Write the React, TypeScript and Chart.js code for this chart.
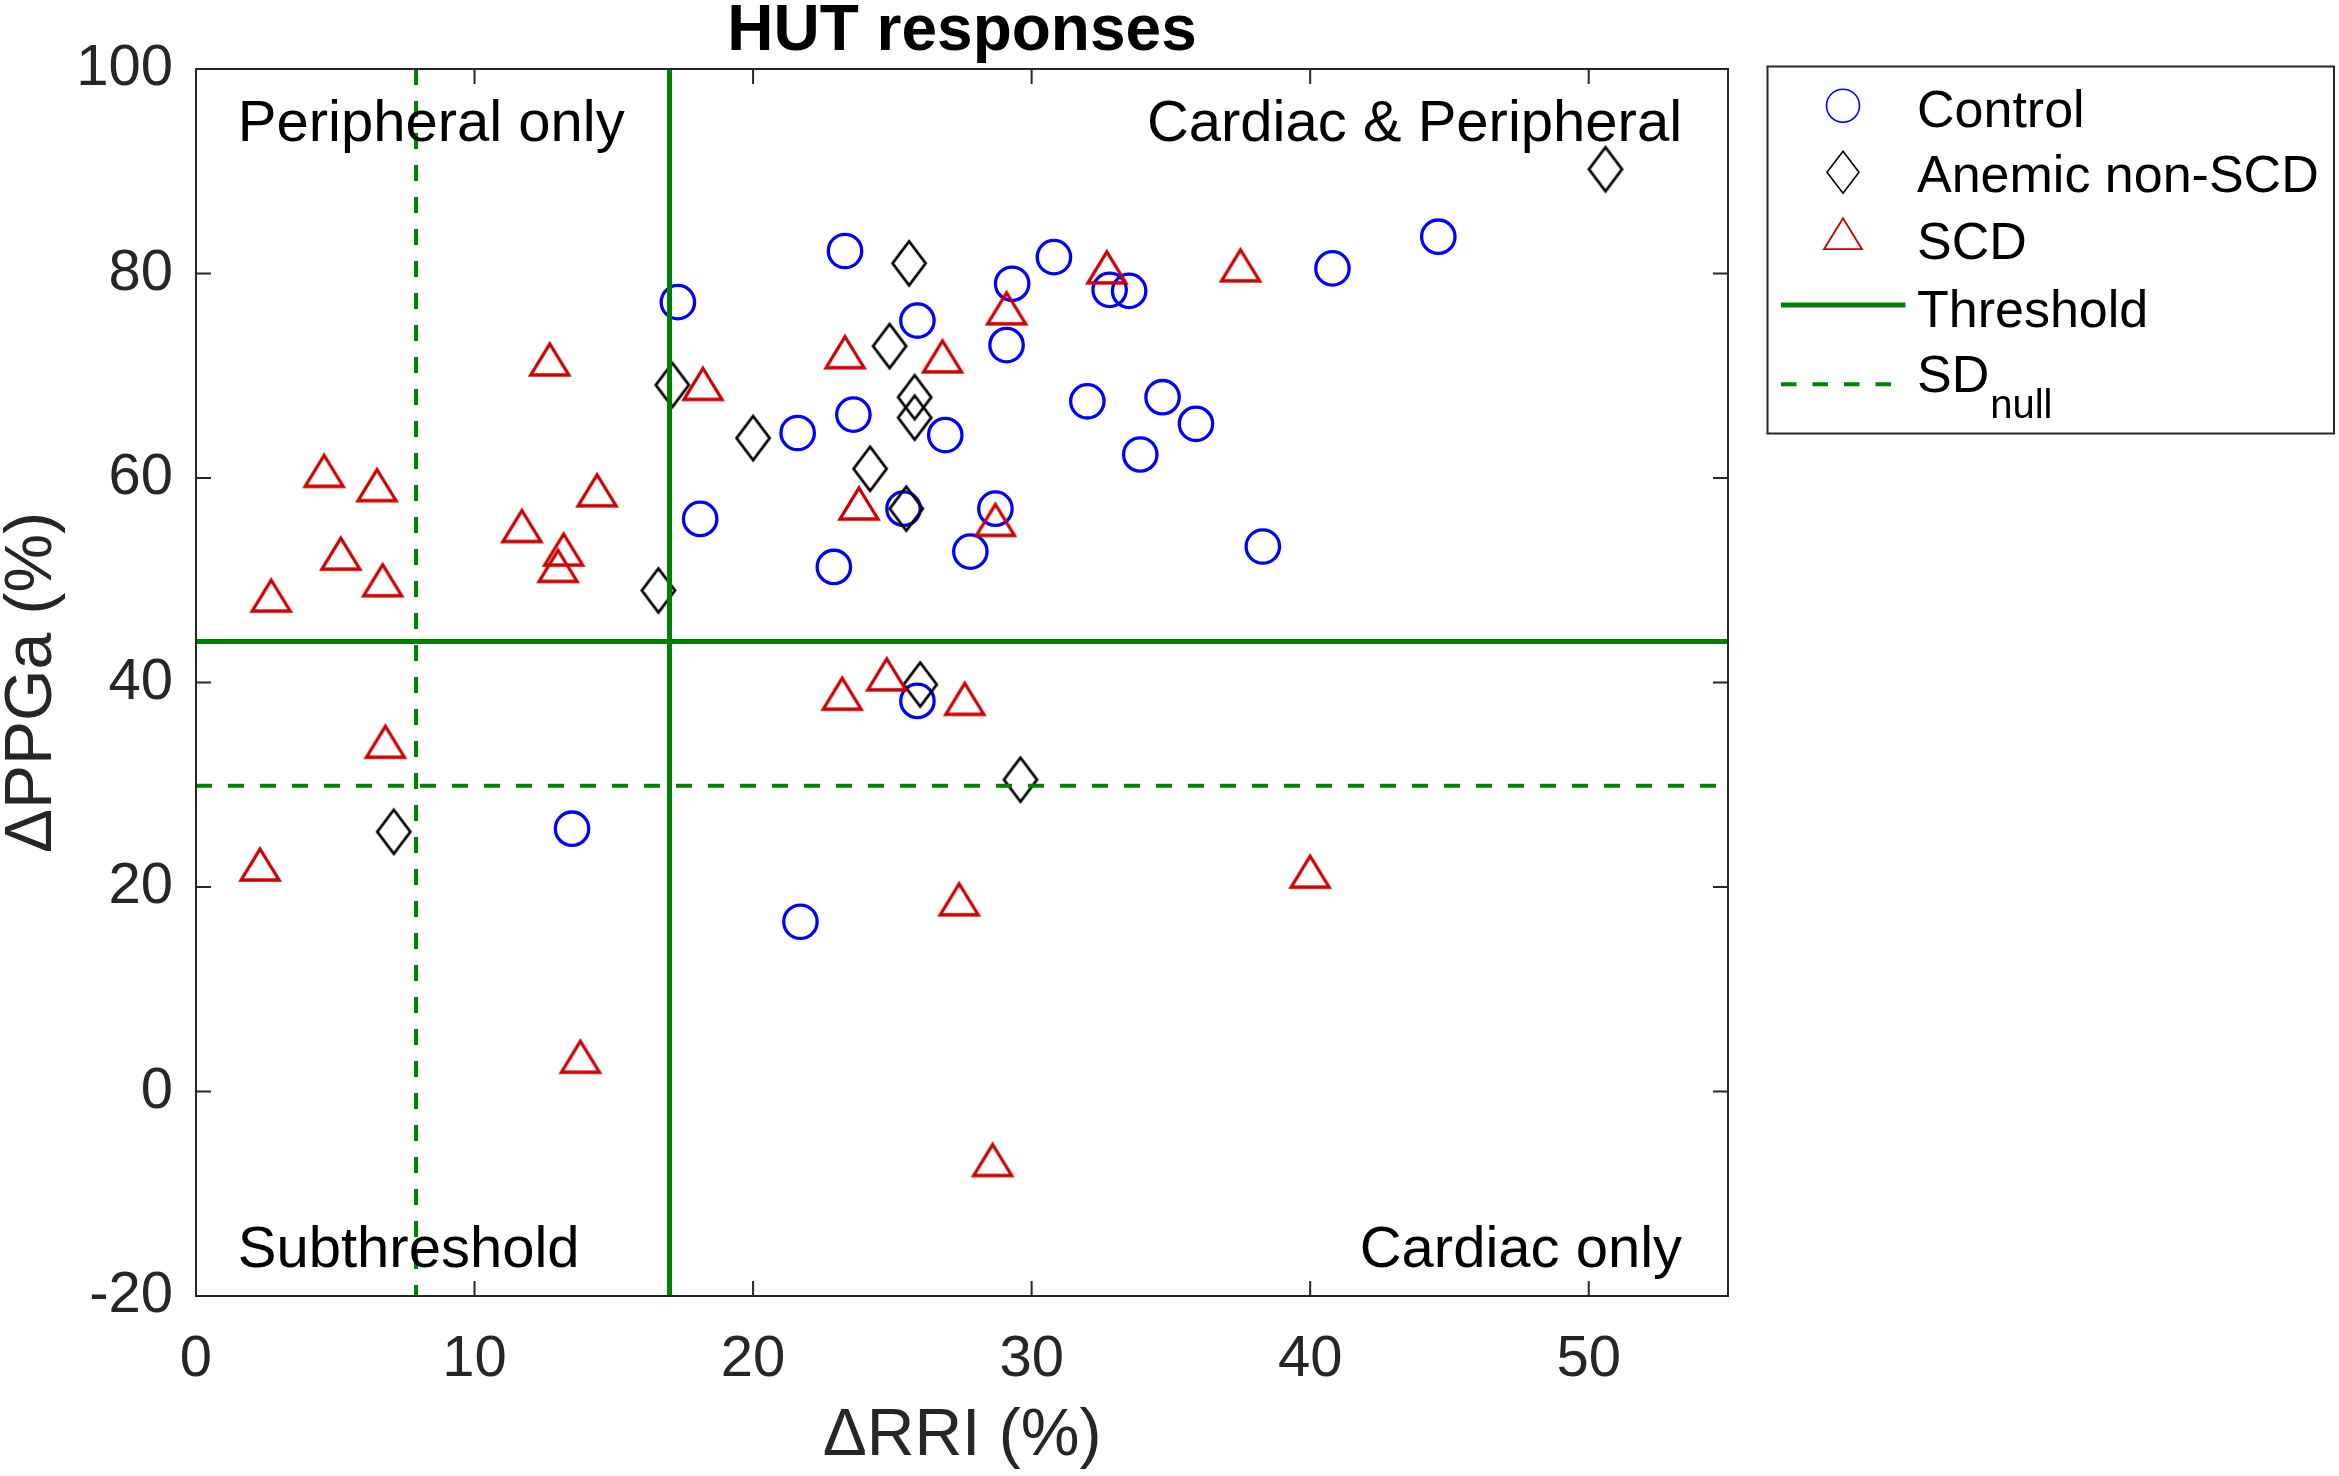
import React, { useEffect, useRef } from 'react';
import { Chart, registerables } from 'chart.js';

Chart.register(...registerables);

// ---------- data ----------
const controlRRI = [23.3, 17.3, 25.9, 29.3, 30.8, 32.8, 33.5, 40.8, 44.6, 29.1, 32.0, 34.7, 35.9, 33.9, 21.6, 23.6, 26.9, 18.1, 25.4, 28.7, 27.8, 22.9, 38.3, 25.9, 13.5, 21.7];
const controlPPGa = [82.2, 77.2, 75.4, 79.0, 81.6, 78.4, 78.3, 80.5, 83.6, 73.0, 67.5, 67.9, 65.3, 62.3, 64.4, 66.2, 64.2, 56.0, 57.0, 57.0, 52.8, 51.3, 53.3, 38.2, 25.7, 16.6];

const anemicRRI = [50.6, 25.6, 24.9, 17.1, 25.8, 25.8, 20.0, 24.2, 25.5, 16.6, 26.0, 29.6, 7.1];
const anemicPPGa = [90.2, 81.0, 72.9, 69.1, 67.9, 65.9, 63.9, 60.9, 57.0, 49.0, 39.8, 30.5, 25.4];

const scdRRI = [2.7, 4.6, 5.2, 6.5, 6.7, 12.7, 11.7, 13.2, 13.0, 14.4, 18.2, 23.3, 26.8, 29.1, 32.7, 37.5, 23.8, 28.7, 23.2, 24.8, 27.6, 6.8, 2.3, 40.0, 27.4, 13.8, 28.6];
const scdPPGa = [48.5, 60.7, 52.6, 59.3, 50.0, 71.6, 55.3, 53.0, 51.4, 58.8, 69.2, 72.3, 71.9, 76.6, 80.6, 80.8, 57.5, 55.9, 38.9, 40.8, 38.4, 34.2, 22.2, 21.5, 18.8, 3.4, -6.7];

const thresholdRRI = 17.0;
const thresholdPPGa = 44.0;
const sdNullRRI = 7.9;
const sdNullPPGa = 29.9;

const xRange = [0, 55];
const yRange = [-20, 100];
const xTicks = [0, 10, 20, 30, 40, 50];
const yTicks = [-20, 0, 20, 40, 60, 80, 100];

const seriesLabels = ['Control', 'Anemic non-SCD', 'SCD', 'Threshold', 'SD'];
const sdSubscript = 'null';
const titleText = 'HUT responses';
const xTitle = 'ΔRRI (%)';
const yTitle = 'ΔPPGa (%)';

// quadrant labels anchored in data coordinates
const quadrantTexts = ['Peripheral only', 'Cardiac & Peripheral', 'Subthreshold', 'Cardiac only'];
const quadrantX = [1.5, 53.35, 1.5, 53.35];
const quadrantY = [92.96, 92.96, -17.2, -17.2];
const quadrantAlign: CanvasTextAlign[] = ['left', 'right', 'left', 'right'];

// ---------- styles ----------
const FONT = "'Liberation Sans', Arial, Helvetica, sans-serif";
const AXIS_COLOR = '#262626';
const BLUE = '#0000ff';
const RED = '#cc0000';
const GREEN = '#008000';

function makeDiamond(hw: number, hh: number, lw: number, color: string) {
  const c = document.createElement('canvas');
  const pad = lw * 3 + 2;
  c.width = Math.round(2 * hw + 2 * pad);
  c.height = Math.round(2 * hh + 2 * pad);
  const g = c.getContext('2d')!;
  g.translate(c.width / 2, c.height / 2);
  g.beginPath();
  g.moveTo(0, -hh);
  g.lineTo(hw, 0);
  g.lineTo(0, hh);
  g.lineTo(-hw, 0);
  g.closePath();
  g.lineWidth = lw;
  g.lineJoin = 'miter';
  g.strokeStyle = color;
  g.stroke();
  return c;
}

function makeTriangle(w: number, h: number, lw: number, color: string) {
  const c = document.createElement('canvas');
  const pad = lw * 3 + 2;
  c.width = Math.round(w + 2 * pad);
  c.height = Math.round(h + 2 * pad);
  const g = c.getContext('2d')!;
  g.translate(c.width / 2, c.height / 2);
  g.beginPath();
  g.moveTo(0, -h / 2);
  g.lineTo(w / 2, h / 2);
  g.lineTo(-w / 2, h / 2);
  g.closePath();
  g.lineWidth = lw;
  g.lineJoin = 'miter';
  g.strokeStyle = color;
  g.stroke();
  return c;
}

function toPoints(xs: number[], ys: number[]) {
  return xs.map((x, i) => ({ x, y: ys[i] }));
}

export default function App() {
  const ref = useRef<HTMLCanvasElement | null>(null);

  useEffect(() => {
    document.body.style.margin = '0';
    const canvas = ref.current;
    if (!canvas) return;

    const diamondImg = makeDiamond(16.5, 22, 2.8, '#000000');
    const triangleImg = makeTriangle(38, 31, 3.3, RED);

    const decorPlugin = {
      id: 'decor',
      afterDraw(chart: any) {
        const ctx = chart.ctx as CanvasRenderingContext2D;
        const { left, right, top, bottom } = chart.chartArea;
        const xs = chart.scales.x;
        const ys = chart.scales.y;
        ctx.save();
        // axes box
        ctx.strokeStyle = AXIS_COLOR;
        ctx.lineWidth = 2;
        ctx.setLineDash([]);
        ctx.strokeRect(left, top, right - left, bottom - top);
        // inward ticks
        const tl = 15;
        ctx.beginPath();
        xTicks.forEach((v) => {
          const px = xs.getPixelForValue(v);
          ctx.moveTo(px, bottom);
          ctx.lineTo(px, bottom - tl);
          ctx.moveTo(px, top);
          ctx.lineTo(px, top + tl);
        });
        yTicks.forEach((v) => {
          const py = ys.getPixelForValue(v);
          ctx.moveTo(left, py);
          ctx.lineTo(left + tl, py);
          ctx.moveTo(right, py);
          ctx.lineTo(right - tl, py);
        });
        ctx.stroke();

        // title
        ctx.fillStyle = '#000000';
        ctx.font = `bold 64px ${FONT}`;
        ctx.textAlign = 'center';
        ctx.textBaseline = 'alphabetic';
        ctx.fillText(titleText, (left + right) / 2, top - 19);

        // quadrant labels
        ctx.font = `58px ${FONT}`;
        quadrantTexts.forEach((t, i) => {
          ctx.textAlign = quadrantAlign[i];
          ctx.fillText(t, xs.getPixelForValue(quadrantX[i]), ys.getPixelForValue(quadrantY[i]));
        });

        // legend
        const bx = right + 39.5;
        const by = top - 2.5;
        const bw = 2334 - bx;
        const bh = 433.5 - by;
        ctx.fillStyle = '#ffffff';
        ctx.fillRect(bx, by, bw, bh);
        ctx.strokeStyle = AXIS_COLOR;
        ctx.lineWidth = 2;
        ctx.strokeRect(bx, by, bw, bh);

        const mx = bx + 75.5;
        const textX = bx + 149.5;
        const baselines = [126.7, 192.3, 259, 326.7, 392.3];
        // control circle
        ctx.beginPath();
        ctx.arc(mx, 105.7, 16.5, 0, Math.PI * 2);
        ctx.strokeStyle = BLUE;
        ctx.lineWidth = 1.6;
        ctx.stroke();
        // diamond
        ctx.beginPath();
        ctx.moveTo(mx, 172.3 - 21);
        ctx.lineTo(mx + 16, 172.3);
        ctx.lineTo(mx, 172.3 + 21);
        ctx.lineTo(mx - 16, 172.3);
        ctx.closePath();
        ctx.strokeStyle = '#000000';
        ctx.lineWidth = 1.6;
        ctx.stroke();
        // triangle
        ctx.beginPath();
        ctx.moveTo(mx, 233.7 - 15.5);
        ctx.lineTo(mx + 19, 233.7 + 15.5);
        ctx.lineTo(mx - 19, 233.7 + 15.5);
        ctx.closePath();
        ctx.strokeStyle = RED;
        ctx.lineWidth = 1.8;
        ctx.stroke();
        // threshold line
        ctx.beginPath();
        ctx.moveTo(bx + 13.5, 305);
        ctx.lineTo(bx + 138, 305);
        ctx.strokeStyle = GREEN;
        ctx.lineWidth = 5;
        ctx.stroke();
        // sd line
        ctx.beginPath();
        ctx.setLineDash([15.5, 16]);
        ctx.moveTo(bx + 13.5, 384.3);
        ctx.lineTo(bx + 138, 384.3);
        ctx.lineWidth = 4;
        ctx.stroke();
        ctx.setLineDash([]);

        ctx.fillStyle = '#000000';
        ctx.font = `52px ${FONT}`;
        ctx.textAlign = 'left';
        ctx.textBaseline = 'alphabetic';
        seriesLabels.forEach((t, i) => {
          ctx.fillText(t, textX, baselines[i]);
        });
        const sdW = ctx.measureText(seriesLabels[4]).width;
        ctx.font = `40px ${FONT}`;
        ctx.fillText(sdSubscript, textX + sdW + 1, 418.3);
        ctx.restore();
      },
    };

    const chart = new Chart(canvas, {
      type: 'scatter',
      data: {
        datasets: [
          {
            label: 'Threshold RRI',
            data: [{ x: thresholdRRI, y: yRange[0] }, { x: thresholdRRI, y: yRange[1] }],
            showLine: true,
            borderColor: GREEN,
            borderWidth: 5,
            pointRadius: 0,
            order: 0,
          },
          {
            label: 'Threshold PPGa',
            data: [{ x: xRange[0], y: thresholdPPGa }, { x: xRange[1], y: thresholdPPGa }],
            showLine: true,
            borderColor: GREEN,
            borderWidth: 5,
            pointRadius: 0,
            order: 0,
          },
          {
            label: 'SD null RRI',
            data: [{ x: sdNullRRI, y: yRange[1] }, { x: sdNullRRI, y: yRange[0] }],
            showLine: true,
            borderColor: GREEN,
            borderWidth: 4,
            borderDash: [16, 16],
            pointRadius: 0,
            order: 0,
          },
          {
            label: 'SD null PPGa',
            data: [{ x: xRange[0], y: sdNullPPGa }, { x: xRange[1], y: sdNullPPGa }],
            showLine: true,
            borderColor: GREEN,
            borderWidth: 4,
            borderDash: [16, 16],
            pointRadius: 0,
            order: 0,
          },
          {
            label: seriesLabels[2],
            data: toPoints(scdRRI, scdPPGa),
            pointStyle: triangleImg as any,
            pointRadius: 18,
            order: 1,
          },
          {
            label: seriesLabels[1],
            data: toPoints(anemicRRI, anemicPPGa),
            pointStyle: diamondImg as any,
            pointRadius: 18,
            order: 2,
          },
          {
            label: seriesLabels[0],
            data: toPoints(controlRRI, controlPPGa),
            pointStyle: 'circle',
            pointRadius: 16.7,
            borderColor: BLUE,
            borderWidth: 3.3,
            backgroundColor: 'rgba(0,0,0,0)',
            order: 3,
          },
        ],
      },
      options: {
        responsive: false,
        maintainAspectRatio: false,
        devicePixelRatio: 1,
        animation: false,
        events: [],
        layout: { padding: { left: 0, top: 69, right: 611, bottom: 0 } },
        plugins: {
          legend: { display: false },
          tooltip: { enabled: false },
          title: { display: false },
        },
        scales: {
          x: {
            type: 'linear',
            position: 'bottom',
            min: xRange[0],
            max: xRange[1],
            afterBuildTicks: (s: any) => {
              s.ticks = xTicks.map((v) => ({ value: v }));
            },
            afterFit: (s: any) => {
              s.height = 180;
            },
            grid: { display: false, drawTicks: false, tickLength: 0 },
            border: { display: false },
            ticks: {
              color: AXIS_COLOR,
              font: { family: FONT, size: 58 },
              padding: 29,
              maxRotation: 0,
              autoSkip: false,
            },
            title: {
              display: true,
              text: xTitle,
              color: AXIS_COLOR,
              font: { family: FONT, size: 66, lineHeight: 1 },
              padding: { top: 0, bottom: 6 },
            },
          },
          y: {
            type: 'linear',
            position: 'left',
            min: yRange[0],
            max: yRange[1],
            afterBuildTicks: (s: any) => {
              s.ticks = yTicks.map((v) => ({ value: v }));
            },
            afterFit: (s: any) => {
              s.width = 196;
            },
            grid: { display: false, drawTicks: false, tickLength: 0 },
            border: { display: false },
            ticks: {
              color: AXIS_COLOR,
              font: { family: FONT, size: 58 },
              padding: 23,
              autoSkip: false,
            },
            title: {
              display: true,
              text: yTitle,
              color: AXIS_COLOR,
              font: { family: FONT, size: 66, lineHeight: 1 },
              padding: { top: 0, bottom: 0 },
            },
          },
        },
      },
      plugins: [decorPlugin],
    });

    return () => {
      chart.destroy();
    };
  }, []);

  return (
    <div style={{ width: 2339, height: 1476, background: '#ffffff' }}>
      <canvas ref={ref} width={2339} height={1476} style={{ display: 'block', width: 2339, height: 1476 }} />
    </div>
  );
}
